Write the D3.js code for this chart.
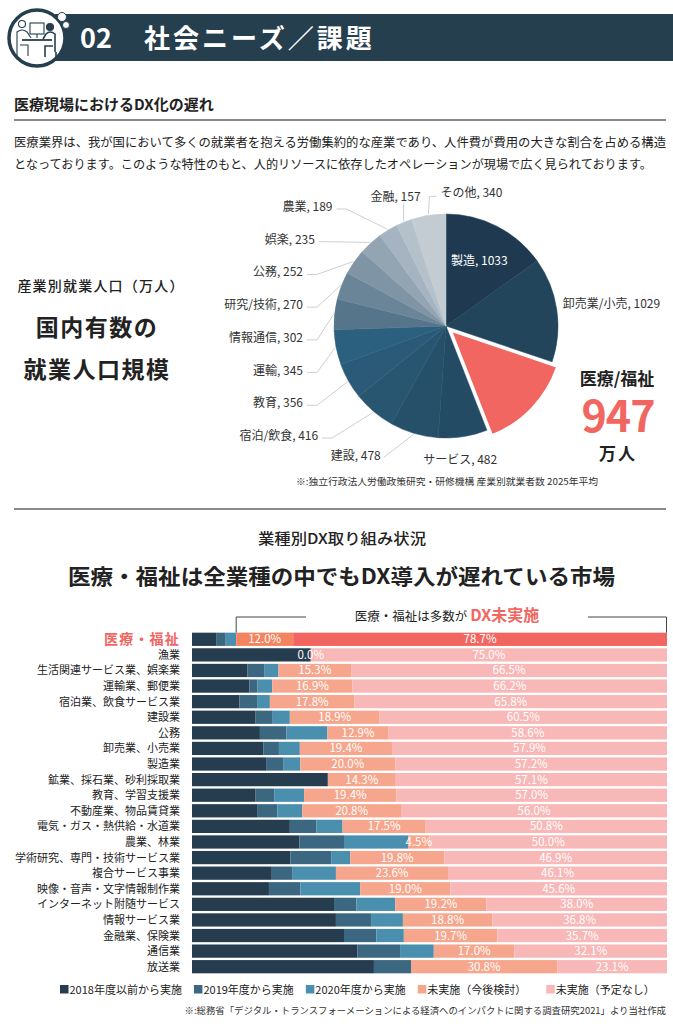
<!DOCTYPE html>
<html lang="ja">
<head>
<meta charset="utf-8">
<script src="https://cdn.jsdelivr.net/npm/d3@7"></script>
<style>
body { margin: 0; background: #fff; }
svg { display: block; font-family: "Noto Sans CJK JP", "Noto Sans", sans-serif; }
</style>
</head>
<body>
<div id="chart"></div>
<script>
// Pie: employment by industry (10k people)
var pieNames = ["製造", "卸売業/小売", "医療/福祉", "サービス", "建設", "宿泊/飲食", "教育", "運輸",
	"情報通信", "研究/技術", "公務", "娯楽", "農業", "金融", "その他"];
var pieValues = [1033, 1029, 947, 482, 478, 416, 356, 345, 302, 270, 252, 235, 189, 157, 340];
var pieColors = ["#1f3a50", "#22455c", "#f26661", "#244b64", "#26506a", "#285570", "#2a5a77", "#2c607f",
	"#56748a", "#6b8598", "#7f95a5", "#93a5b3", "#a5b4c0", "#b4c0ca", "#c3ccd3"];

// Bars: DX status by industry (%)
var industries = ["医療・福祉", "漁業", "生活関連サービス業、娯楽業", "運輸業、郵便業", "宿泊業、飲食サービス業",
	"建設業", "公務", "卸売業、小売業", "製造業", "鉱業、採石業、砂利採取業", "教育、学習支援業",
	"不動産業、物品賃貸業", "電気・ガス・熱供給・水道業", "農業、林業", "学術研究、専門・技術サービス業",
	"複合サービス事業", "映像・音声・文字情報制作業", "インターネット附随サービス", "情報サービス業",
	"金融業、保険業", "通信業", "放送業"];
var since2018 = [5.2, 25.0, 11.7, 12.1, 10.0, 13.4, 14.3, 15.0, 15.6, 28.6, 13.3, 13.7, 20.6, 22.6, 20.7, 16.8, 16.2, 29.9, 30.3, 32.0, 34.8, 38.3];
var from2019 = [1.9, 0, 3.6, 1.7, 3.7, 3.6, 5.6, 3.3, 3.7, 0, 4.0, 4.3, 5.6, 9.4, 8.6, 4.4, 6.6, 4.7, 7.4, 6.8, 9.0, 7.8];
var from2020 = [2.2, 0, 2.9, 3.1, 2.7, 3.6, 8.6, 4.4, 3.5, 0, 6.3, 5.2, 5.5, 13.5, 4.0, 9.1, 12.6, 8.2, 6.7, 5.8, 7.1, 0];
var planned = [12.0, 0.0, 15.3, 16.9, 17.8, 18.9, 12.9, 19.4, 20.0, 14.3, 19.4, 20.8, 17.5, 4.5, 19.8, 23.6, 19.0, 19.2, 18.8, 19.7, 17.0, 30.8];
var notPlanned = [78.7, 75.0, 66.5, 66.2, 65.8, 60.5, 58.6, 57.9, 57.2, 57.1, 57.0, 56.0, 50.8, 50.0, 46.9, 46.1, 45.6, 38.0, 36.8, 35.7, 32.1, 23.1];
var seriesKeys = ["s2018", "s2019", "s2020", "plan", "none"];
var legendLabels = ["2018年度以前から実施", "2019年度から実施", "2020年度から実施", "未実施（今後検討）", "未実施（予定なし）"];
var barColors = ["#263d50", "#3b6781", "#4a8fae", "#f6a68c", "#f8b8b7"];

var W = 673, H = 1024;
var navy = "#263f4f", coral = "#f26661", ink = "#222";

var svg = d3.select("#chart").append("svg")
	.attr("width", W)
	.attr("height", H);

// ---- header ----
svg.append("rect").attr("x", 55).attr("y", 14).attr("width", W - 55).attr("height", 47).attr("fill", navy);
svg.append("text").attr("x", 80).attr("y", 48).attr("fill", "#fff")
	.attr("font-size", 27).attr("font-weight", 700).text("02");
svg.append("text").attr("x", 144).attr("y", 48).attr("fill", "#fff")
	.attr("font-size", 26).attr("font-weight", 700).attr("letter-spacing", 3).text("社会ニーズ／課題");

// icon
var icon = svg.append("g").attr("stroke", navy).attr("fill", "none");
icon.append("circle").attr("cx", 37).attr("cy", 38).attr("r", 28).attr("fill", "#fff").attr("stroke-width", 3.5);
icon.append("circle").attr("cx", 62).attr("cy", 17).attr("r", 4.5).attr("fill", "#fff").attr("stroke-width", 1);
icon.append("circle").attr("cx", 66).attr("cy", 25).attr("r", 3.5).attr("fill", "#fff").attr("stroke-width", 1);
var art = icon.append("g").attr("stroke-width", 1.1);
art.append("rect").attr("x", 30).attr("y", 23).attr("width", 14).attr("height", 11);
art.append("line").attr("x1", 37).attr("y1", 34).attr("x2", 37).attr("y2", 38);
art.append("line").attr("x1", 22).attr("y1", 40).attr("x2", 52).attr("y2", 40).attr("stroke-width", 1.8);
art.append("circle").attr("cx", 22).attr("cy", 24).attr("r", 3.5);
art.append("path").attr("d", "M17,51 L17,32 Q22,28 27,32 L31,38 M20,45 L28,45 L28,56 M17,51 L17,58");
art.append("circle").attr("cx", 50).attr("cy", 27).attr("r", 3.5).attr("fill", navy);
art.append("path").attr("d", "M55,52 L55,34 Q50,30 46,34 L43,39 M53,46 L45,46 L45,57 M56,52 L56,58").attr("stroke-width", 1.6);

// ---- section 1 ----
svg.append("text").attr("x", 14).attr("y", 110).attr("fill", ink)
	.attr("font-size", 15).attr("font-weight", 700).text("医療現場におけるDX化の遅れ");
svg.append("line").attr("x1", 14).attr("x2", 666).attr("y1", 120).attr("y2", 120)
	.attr("stroke", "#8a8a8a").attr("stroke-width", 2);
svg.append("text").attr("x", 14).attr("y", 147).attr("fill", ink).attr("font-size", 12.3)
	.attr("textLength", 652).attr("lengthAdjust", "spacingAndGlyphs")
	.text("医療業界は、我が国において多くの就業者を抱える労働集約的な産業であり、人件費が費用の大きな割合を占める構造");
svg.append("text").attr("x", 14).attr("y", 169).attr("fill", ink).attr("font-size", 12.3)
	.attr("textLength", 638).attr("lengthAdjust", "spacingAndGlyphs")
	.text("となっております。このような特性のもと、人的リソースに依存したオペレーションが現場で広く見られております。");

// left captions
svg.append("text").attr("x", 101).attr("y", 291).attr("text-anchor", "middle").attr("fill", ink)
	.attr("font-size", 14).attr("font-weight", 500).attr("letter-spacing", 1.2).text("産業別就業人口（万人）");
svg.append("text").attr("x", 97).attr("y", 336).attr("text-anchor", "middle").attr("fill", ink)
	.attr("font-size", 23).attr("font-weight", 700).attr("letter-spacing", 1.5).text("国内有数の");
svg.append("text").attr("x", 97).attr("y", 378).attr("text-anchor", "middle").attr("fill", ink)
	.attr("font-size", 23).attr("font-weight", 700).attr("letter-spacing", 1.5).text("就業人口規模");

// ---- pie ----
var cx = 446, cy = 326, r = 112;
var pieData = pieNames.map(function(n, i) { return {name: n, value: pieValues[i], color: pieColors[i]}; });
var arcs = d3.pie().sort(null).value(function(d) { return d.value; })(pieData);
var arc = d3.arc().innerRadius(0).outerRadius(r);
function edge(a, R) {
	var m = (a.startAngle + a.endAngle) / 2;
	return [cx + Math.sin(m) * R, cy - Math.cos(m) * R];
}
var pieG = svg.append("g").attr("transform", "translate(" + cx + "," + cy + ")");
pieG.selectAll("path")
	.data(arcs)
	.enter().append("path")
	.attr("d", arc)
	.attr("fill", function(d) { return d.data.color; })
	.attr("stroke", function(d) { return d.data.name === "医療/福祉" ? "#fff" : d.data.color; })
	.attr("stroke-width", function(d) { return d.data.name === "医療/福祉" ? 2 : 0.5; })
	.attr("transform", function(d) {
		if (d.data.name !== "医療/福祉") return null;
		var m = (d.startAngle + d.endAngle) / 2;
		return "translate(" + Math.sin(m) * 7 + "," + (-Math.cos(m) * 7) + ")";
	});
// bring the exploded slice on top
pieG.selectAll("path").filter(function(d) { return d.data.name === "医療/福祉"; }).raise();

var labelG = svg.append("g").attr("font-size", 12).attr("fill", "#333");
var leader = svg.append("g").attr("stroke", "#cfcfcf").attr("fill", "none").attr("stroke-width", 1);
var leftArcs = arcs.filter(function(d) { return d.index >= 5 && d.index <= 12; });
var leftY = d3.scalePoint().domain(leftArcs.map(function(d) { return d.data.name; })).range([436, 207]);

arcs.forEach(function(a) {
	var n = a.data.name, lab = n + ", " + a.data.value, p = edge(a, r + 1);
	if (n === "医療/福祉") return;
	if (a.index === 0) {
		var c = edge(a, r * 0.65);
		labelG.append("text").attr("x", c[0]).attr("y", c[1] + 4).attr("text-anchor", "middle")
			.attr("fill", "#fff").text(lab);
	} else if (a.index === 1) {
		labelG.append("text").attr("x", p[0] + 5).attr("y", p[1] - 1).text(lab);
	} else if (a.index === 3) {
		labelG.append("text").attr("x", p[0] - 40).attr("y", p[1] + 26).text(lab);
	} else if (a.index === 4) {
		var ex = p[0] - 33, ey = p[1] + 22;
		labelG.append("text").attr("x", ex).attr("y", ey + 4).attr("text-anchor", "end").text(lab);
		leader.append("polyline").attr("points", [[ex + 3, ey + 1], p].join(" "));
	} else if (a.index >= 5 && a.index <= 12) {
		var y = leftY(n), tx = Math.max(cx - 143, p[0] - 55);
		labelG.append("text").attr("x", tx).attr("y", y + 4).attr("text-anchor", "end").text(lab);
		leader.append("polyline").attr("points", [[tx + 4, y + 2], [tx + 14, y + 2], p].join(" "));
	} else if (a.index === 13) {
		labelG.append("text").attr("x", p[0] + 17).attr("y", p[1] - 20).attr("text-anchor", "end").text(lab);
		leader.append("polyline").attr("points", [p, [p[0], p[1] - 18]].join(" "));
	} else {
		labelG.append("text").attr("x", p[0] + 12).attr("y", p[1] - 17).text(lab);
		leader.append("polyline").attr("points", [p, [p[0] + 1, p[1] - 18], [p[0] + 8, p[1] - 18]].join(" "));
	}
});

// callout for medical/welfare
svg.append("text").attr("x", 617).attr("y", 385).attr("text-anchor", "middle").attr("fill", ink)
	.attr("font-size", 17).attr("font-weight", 700).text("医療/福祉");
svg.append("text").attr("x", 618).attr("y", 432).attr("text-anchor", "middle").attr("fill", coral)
	.attr("font-size", 43).attr("font-weight", 700).attr("letter-spacing", -1).text("947");
svg.append("text").attr("x", 618).attr("y", 460).attr("text-anchor", "middle").attr("fill", ink)
	.attr("font-size", 17).attr("font-weight", 700).attr("letter-spacing", 2).text("万人");

svg.append("text").attr("x", 296).attr("y", 485).attr("fill", "#333").attr("font-size", 9.5)
	.attr("textLength", 302).attr("lengthAdjust", "spacingAndGlyphs")
	.text("※:独立行政法人労働政策研究・研修機構 産業別就業者数 2025年平均");

svg.append("line").attr("x1", 14).attr("x2", 666).attr("y1", 509).attr("y2", 509)
	.attr("stroke", "#8a8a8a").attr("stroke-width", 2);

// ---- section 2: stacked bars ----
svg.append("text").attr("x", 342).attr("y", 544).attr("text-anchor", "middle").attr("fill", ink)
	.attr("font-size", 14.5).attr("font-weight", 500).attr("textLength", 168).attr("lengthAdjust", "spacingAndGlyphs")
	.text("業種別DX取り組み状況");
svg.append("text").attr("x", 68).attr("y", 584).attr("fill", ink)
	.attr("font-size", 21).attr("font-weight", 700).attr("textLength", 547).attr("lengthAdjust", "spacingAndGlyphs")
	.text("医療・福祉は全業種の中でもDX導入が遅れている市場");

var table = industries.map(function(name, i) {
	return {name: name, s2018: since2018[i], s2019: from2019[i], s2020: from2020[i], plan: planned[i], none: notPlanned[i]};
});
var stacked = d3.stack().keys(seriesKeys)(table);

var x = d3.scaleLinear().domain([0, 100]).range([192, 667]);
var y = d3.scaleBand().domain(industries).range([631.5, 974.5]).paddingInner(0.15).paddingOuter(0.075);
var color = d3.scaleOrdinal().domain(seriesKeys).range(barColors);

function fillFor(key, row) {
	if (row === industries[0] && key === "plan") return "#f4845f";
	if (row === industries[0] && key === "none") return coral;
	return color(key);
}

svg.append("g").selectAll("g")
	.data(stacked)
	.enter().append("g")
	.selectAll("rect")
	.data(function(s) { return s.map(function(d) { d.key = s.key; return d; }); })
	.enter().append("rect")
	.attr("x", function(d) { return x(d[0]); })
	.attr("y", function(d) { return y(d.data.name); })
	.attr("width", function(d) { return x(d[1]) - x(d[0]); })
	.attr("height", y.bandwidth())
	.attr("fill", function(d) { return fillFor(d.key, d.data.name); });

// percentage labels for the not-yet series, drawn above all bars
svg.append("g").selectAll("g")
	.data(stacked.filter(function(s) { return s.key === "plan" || s.key === "none"; }))
	.enter().append("g")
	.selectAll("text")
	.data(function(s) { return s; })
	.enter().append("text")
	.attr("x", function(d) { return x((d[0] + d[1]) / 2); })
	.attr("y", function(d) { return y(d.data.name) + y.bandwidth() / 2 + 4; })
	.attr("text-anchor", "middle")
	.attr("fill", "#fff")
	.attr("font-size", 11.5)
	.text(function(d) { return (d[1] - d[0]).toFixed(1) + "%"; });

// row labels
svg.append("g").selectAll("text")
	.data(industries)
	.enter().append("text")
	.attr("x", 180)
	.attr("y", function(d) { return y(d) + y.bandwidth() / 2 + (d === industries[0] ? 4.5 : 4); })
	.attr("text-anchor", "end")
	.attr("fill", function(d) { return d === industries[0] ? coral : ink; })
	.attr("font-size", function(d) { return d === industries[0] ? 14 : 11; })
	.attr("font-weight", function(d) { return d === industries[0] ? 700 : 400; })
	.attr("letter-spacing", function(d) { return d === industries[0] ? 1.2 : 0; })
	.text(function(d) { return d; });

// bracket over the medical row
var firstTop = y(industries[0]);
var bx0 = x(since2018[0] + from2019[0] + from2020[0]), bx1 = x(100) - 0.5, by = 617;
svg.append("polyline").attr("fill", "none").attr("stroke", "#444").attr("stroke-width", 1)
	.attr("points", [[bx0, firstTop], [bx0, by], [306, by]].join(" "));
svg.append("polyline").attr("fill", "none").attr("stroke", "#444").attr("stroke-width", 1)
	.attr("points", [[588, by], [bx1, by], [bx1, firstTop]].join(" "));
var bt = svg.append("text").attr("x", 447).attr("y", 621).attr("text-anchor", "middle").attr("fill", ink).attr("font-size", 12.5);
bt.append("tspan").text("医療・福祉は多数が");
bt.append("tspan").attr("fill", coral).attr("font-size", 16).attr("font-weight", 700).attr("dx", 3).text("DX未実施");

// legend
var lg = svg.append("g").attr("font-size", 11).attr("fill", ink);
var lx = 60;
legendLabels.forEach(function(t, i) {
	lg.append("rect").attr("x", lx).attr("y", 985).attr("width", 8.5).attr("height", 8.5).attr("fill", barColors[i]);
	var tt = lg.append("text").attr("x", lx + 9.5).attr("y", 993.5).text(t);
	lx += 9.5 + tt.node().getComputedTextLength() + (i === 3 ? 20 : 12);
});

svg.append("text").attr("x", 666).attr("y", 1014).attr("text-anchor", "end").attr("fill", "#333")
	.attr("font-size", 9.4)
	.text("※:総務省「デジタル・トランスフォーメーションによる経済へのインパクトに関する調査研究2021」より当社作成");
</script>
</body>
</html>
